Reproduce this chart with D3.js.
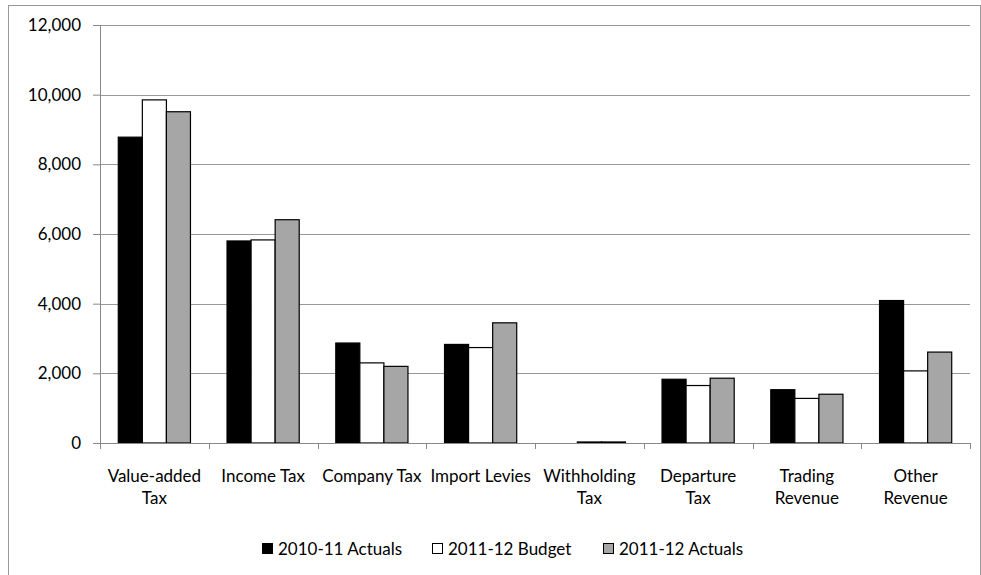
<!DOCTYPE html>
<html>
<head>
<meta charset="utf-8">
<script src="https://cdn.jsdelivr.net/npm/d3@7"></script>
<style>
  body { margin: 0; background: #fff; }
  text { font-family: Lato, "Open Sans", sans-serif; fill: #000; }
</style>
</head>
<body>
<div id="vis"></div>
<script>
var categories = [["Value-added", "Tax"], ["Income Tax"], ["Company Tax"], ["Import Levies"],
    ["Withholding", "Tax"], ["Departure", "Tax"], ["Trading", "Revenue"], ["Other", "Revenue"]];
var seriesNames = ["2010-11 Actuals", "2011-12 Budget", "2011-12 Actuals"];
var actuals1011 = [8780, 5800, 2870, 2830, 0, 1830, 1530, 4090];
var budget1112 = [9850, 5830, 2300, 2740, 30, 1650, 1280, 2070];
var actuals1112 = [9510, 6410, 2200, 3450, 30, 1860, 1400, 2610];
var yTicks = [0, 2000, 4000, 6000, 8000, 10000, 12000];
var colors = ["#000000", "#ffffff", "#a6a6a6"];

var width = 981, height = 575;
var margin = { top: 25, right: 11, bottom: 132, left: 100 },
    drawWidth = width - margin.left - margin.right,
    drawHeight = height - margin.top - margin.bottom;

var svg = d3.select("#vis").append("svg")
    .attr("width", width)
    .attr("height", height);

// outer chart border
svg.append("rect")
    .attr("x", 8.5).attr("y", 5.5)
    .attr("width", 972).attr("height", 600)
    .attr("fill", "none").attr("stroke", "#999");

var g = svg.append("g")
    .attr("transform", "translate(" + margin.left + "," + margin.top + ")");

var x = d3.scaleBand()
    .domain(d3.range(categories.length))
    .range([0, drawWidth]);

var x1 = d3.scaleBand()
    .domain(d3.range(seriesNames.length))
    .range([0, x.bandwidth()])
    .paddingOuter(0.76)
    .paddingInner(0);

var y = d3.scaleLinear()
    .domain([0, 12000])
    .range([drawHeight, 0]);

// gridlines
g.selectAll(".grid")
    .data(yTicks.slice(1))
    .enter().append("line")
    .attr("x1", 0).attr("x2", drawWidth)
    .attr("y1", function(d) { return Math.round(y(d)) + 0.5; })
    .attr("y2", function(d) { return Math.round(y(d)) + 0.5; })
    .attr("stroke", "#999").attr("stroke-width", 1);

var yAxis = d3.axisLeft(y)
    .tickValues(yTicks)
    .tickSize(7)
    .tickPadding(12)
    .tickFormat(d3.format(","));

var yg = g.append("g").call(yAxis);
yg.select(".domain").attr("stroke", "#888");
yg.selectAll(".tick line").attr("stroke", "#888");
yg.selectAll(".tick text").style("font-size", "17px");

var series = [actuals1011, budget1112, actuals1112];

series.forEach(function(vals, s) {
    g.selectAll(".bar" + s)
        .data(vals)
        .enter().append("rect")
        .attr("x", function(d, i) { return x(i) + x1(s); })
        .attr("y", function(d) { return y(d); })
        .attr("width", x1.bandwidth())
        .attr("height", function(d) { return drawHeight - y(d); })
        .attr("fill", colors[s])
        .attr("stroke", "#000")
        .attr("stroke-width", function(d) { return d > 0 ? 1.2 : 0; });
});

// x axis
var xg = g.append("g").attr("transform", "translate(0," + drawHeight + ")");
xg.append("line")
    .attr("x1", 0).attr("x2", drawWidth)
    .attr("y1", 0.5).attr("y2", 0.5)
    .attr("stroke", "#888");
xg.selectAll(".xtick")
    .data(d3.range(categories.length + 1))
    .enter().append("line")
    .attr("x1", function(i) { return Math.round(i * x.step()) + 0.5; })
    .attr("x2", function(i) { return Math.round(i * x.step()) + 0.5; })
    .attr("y1", 0).attr("y2", 6)
    .attr("stroke", "#888");

var labels = xg.selectAll(".xlabel")
    .data(categories)
    .enter().append("text")
    .attr("text-anchor", "middle")
    .attr("transform", function(d, i) { return "translate(" + (x(i) + x.bandwidth() / 2) + ",39)"; })
    .style("font-size", "17px");
labels.selectAll("tspan")
    .data(function(d) { return d; })
    .enter().append("tspan")
    .attr("x", 0)
    .attr("dy", function(d, j) { return j === 0 ? 0 : 22; })
    .text(function(d) { return d; });

// legend
var legendX = [262, 432, 603];
var legend = svg.append("g").attr("transform", "translate(0,555)");
seriesNames.forEach(function(name, s) {
    legend.append("rect")
        .attr("x", legendX[s] + 0.5).attr("y", -11.5)
        .attr("width", 10).attr("height", 10)
        .attr("fill", colors[s]).attr("stroke", "#000").attr("stroke-width", 1);
    legend.append("text")
        .attr("x", legendX[s] + 16).attr("y", 0)
        .style("font-size", "17px")
        .text(name);
});
</script>
</body>
</html>
